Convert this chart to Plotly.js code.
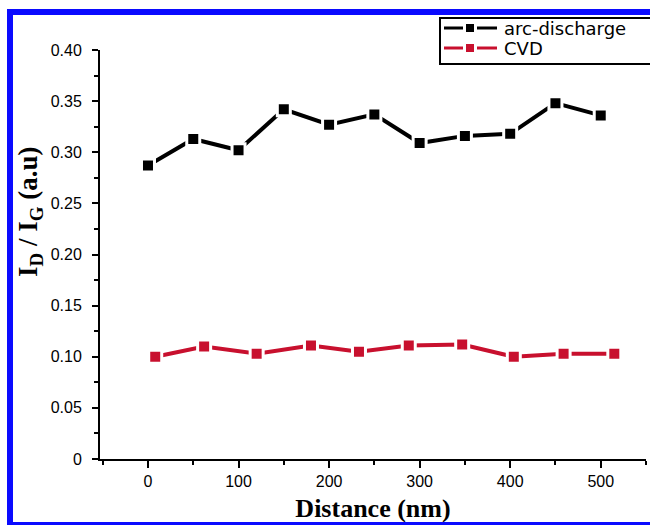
<!DOCTYPE html>
<html>
<head>
<meta charset="utf-8">
<script src="https://cdn.plot.ly/plotly-3.0.1.min.js"></script>
<style>
  html, body { margin: 0; padding: 0; background: #ffffff; }
  #wrap { position: relative; width: 650px; height: 525px; overflow: hidden; }
  #chart { width: 650px; height: 525px; }
  #frame {
    position: absolute; left: 7px; top: 9px; width: 720px; height: 516px;
    box-sizing: border-box; border-left: 6px solid #0a0aff; border-top: 6px solid #0a0aff;
    border-bottom: 3px solid #0a0aff; pointer-events: none;
  }
</style>
</head>
<body>
<div id="wrap">
  <div id="chart"></div>
  <div id="frame"></div>
</div>
<script>
// Data
const distanceArc = [0, 50, 100, 150, 200, 250, 300, 350, 400, 450, 500];
const ratioArc = [0.287, 0.313, 0.302, 0.342, 0.327, 0.337, 0.309, 0.316, 0.318, 0.348, 0.336];
const distanceCVD = [8, 62, 120, 180, 233, 288, 347, 404, 459, 515];
const ratioCVD = [0.100, 0.110, 0.103, 0.111, 0.105, 0.111, 0.112, 0.100, 0.103, 0.103];
const xTickVals = [0, 100, 200, 300, 400, 500];
const yTickVals = [0, 0.05, 0.10, 0.15, 0.20, 0.25, 0.30, 0.35, 0.40];
const yTickText = ['0', '0.05', '0.10', '0.15', '0.20', '0.25', '0.30', '0.35', '0.40'];
const seriesNames = ['arc-discharge', 'CVD'];
const seriesColors = ['#000000', '#c8102e'];

const sans = 'Liberation Sans, Arial, sans-serif';
const serif = 'Liberation Serif, Times New Roman, serif';

// page-pixel -> paper helpers (for legend box / titles only)
const M = { l: 100, r: 4, t: 50, b: 66 };
const W = 650, H = 525;
const pw = W - M.l - M.r, ph = H - M.t - M.b;
const px = v => (v - M.l) / pw;
const py = v => (H - M.b - v) / ph;

const traces = [
  {
    x: distanceArc, y: ratioArc, name: seriesNames[0], type: 'scatter', mode: 'lines+markers',
    line: { color: seriesColors[0], width: 4 },
    marker: { symbol: 'square', size: 13, color: seriesColors[0], line: { color: '#ffffff', width: 3 } }
  },
  {
    x: distanceCVD, y: ratioCVD, name: seriesNames[1], type: 'scatter', mode: 'lines+markers',
    line: { color: seriesColors[1], width: 4 },
    marker: { symbol: 'square', size: 13, color: seriesColors[1], line: { color: '#ffffff', width: 3 } }
  }
];

// Hand-drawn legend (compact, like the reference)
const legRows = [28, 48];
const shapes = [
  { type: 'rect', xref: 'paper', yref: 'paper', x0: px(440), x1: px(700), y0: py(64), y1: py(18),
    line: { color: '#000000', width: 2 }, fillcolor: '#ffffff', layer: 'above' }
];
const annotations = [];
seriesNames.forEach((name, i) => {
  const yy = legRows[i];
  shapes.push({ type: 'line', xref: 'paper', yref: 'paper', x0: px(444), x1: px(463), y0: py(yy), y1: py(yy),
    line: { color: seriesColors[i], width: 3 }, layer: 'above' });
  shapes.push({ type: 'line', xref: 'paper', yref: 'paper', x0: px(477), x1: px(497), y0: py(yy), y1: py(yy),
    line: { color: seriesColors[i], width: 3 }, layer: 'above' });
  shapes.push({ type: 'rect', xref: 'paper', yref: 'paper', x0: px(466), x1: px(474), y0: py(yy + 4), y1: py(yy - 4),
    line: { width: 0 }, fillcolor: seriesColors[i], layer: 'above' });
  annotations.push({ text: name, xref: 'paper', yref: 'paper', x: px(503), y: py(yy), xanchor: 'left', yanchor: 'middle',
    showarrow: false, borderpad: 0, font: { family: 'DejaVu Sans, sans-serif', size: 18, color: '#000000' } });
});
annotations.push({
  text: '<b>I<sub>D</sub> / I<sub>G</sub> (a.u)</b>', xref: 'paper', yref: 'paper', x: px(30), y: py(212),
  xanchor: 'center', yanchor: 'middle', textangle: -90, showarrow: false,
  font: { family: serif, size: 27, color: '#000000' }
});

const layout = {
  width: W, height: H,
  margin: { l: M.l, r: M.r, t: M.t, b: M.b, autoexpand: false },
  paper_bgcolor: '#ffffff', plot_bgcolor: '#ffffff',
  showlegend: false,
  shapes: shapes,
  annotations: annotations,
  xaxis: {
    range: [-53, 550], tickmode: 'array', tickvals: xTickVals,
    ticks: 'outside', ticklen: 7, tickwidth: 2, tickcolor: '#000000',
    showline: true, linewidth: 2, linecolor: '#000000', mirror: false,
    showgrid: false, zeroline: false,
    minor: { dtick: 50, tick0: 0, ticks: 'outside', ticklen: 4, tickwidth: 2, tickcolor: '#000000', showgrid: false },
    tickfont: { family: sans, size: 16, color: '#000000' },
    title: { text: 'Distance (nm)', font: { family: serif, size: 26, weight: 'bold', color: '#000000' }, standoff: 10 }
  },
  yaxis: {
    range: [0, 0.4], tickmode: 'array', tickvals: yTickVals, ticktext: yTickText,
    ticks: 'outside', ticklen: 6, tickwidth: 2, tickcolor: '#000000',
    showline: true, linewidth: 2, linecolor: '#000000',
    showgrid: false, zeroline: false, ticklabelstandoff: 7,
    minor: { dtick: 0.025, tick0: 0, ticks: 'outside', ticklen: 4, tickwidth: 2, tickcolor: '#000000', showgrid: false },
    tickfont: { family: sans, size: 16, color: '#000000' }
  }
};

Plotly.newPlot('chart', traces, layout, { displayModeBar: false, staticPlot: true });
</script>
</body>
</html>
